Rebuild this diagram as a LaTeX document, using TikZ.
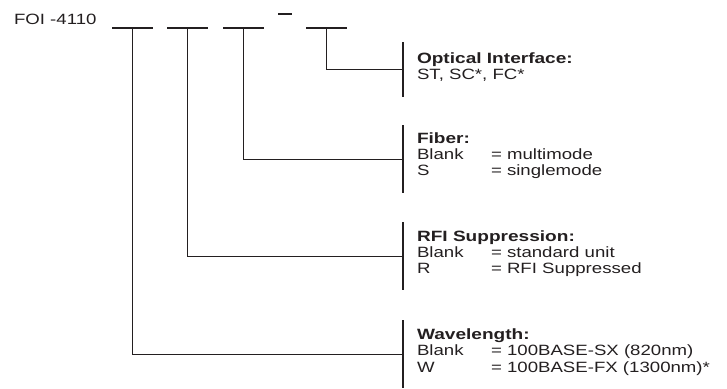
\documentclass[tikz,border=0pt]{standalone}
\usepackage{fontspec}
\setmainfont{Liberation Sans}[FakeStretch=1.25,BoldFeatures={FakeStretch=1.28}]
\definecolor{ink}{RGB}{35,31,32}
\begin{document}
\begin{tikzpicture}[x=1pt,y=-1pt,
  ln/.style={draw=ink,line width=1.4pt},
  txt/.style={anchor=base west,inner sep=0pt,outer sep=0pt,text=ink,
    font=\fontsize{14.9pt}{16pt}\selectfont},
  ttl/.style={txt,font=\fontsize{14.9pt}{16pt}\selectfont\bfseries}]
\useasboundingbox (0,0) rectangle (727,388);
% part number
\node[txt] (foi) at (14,24) {FOI -4110};
% bars
\coordinate (b1) at (132.5,28);
\coordinate (b2) at (187.5,28);
\coordinate (b3) at (243.5,28);
\coordinate (b4) at (326.5,28);
\foreach \b in {b1,b2,b3,b4}{
  \draw[ln] ([xshift=-20.5pt]\b) -- ([xshift=20.5pt]\b);
}
\coordinate (d1) at (278,14);
\coordinate (d2) at (292,14);
\draw[ln] (d1) -- (d2);
% brackets
\coordinate (k1t) at (403,42);  \coordinate (k1b) at (403,97);
\coordinate (k2t) at (403,125); \coordinate (k2b) at (403,193);
\coordinate (k3t) at (403,222); \coordinate (k3b) at (403,290);
\coordinate (k4t) at (403,320); \coordinate (k4b) at (403,388);
\draw[ln] (k1t) -- (k1b);
\draw[ln] (k2t) -- (k2b);
\draw[ln] (k3t) -- (k3b);
\draw[ln] (k4t) -- (k4b);
\coordinate (k1m) at (403,69.5);
\coordinate (k2m) at (403,159.5);
\coordinate (k3m) at (403,256.5);
\coordinate (k4m) at (403,354.5);
% connectors
\draw[ln] (b4) |- (k1m);
\draw[ln] (b3) |- (k2m);
\draw[ln] (b2) |- (k3m);
\draw[ln] (b1) |- (k4m);
% texts
\node[ttl] (t1) at (417,63) {Optical Interface:};
\node[txt] (t1a) at (417,79) {ST, SC*, FC*};
\node[ttl] (t2) at (417,143) {Fiber:};
\node[txt] (t2a) at (417,159) {Blank};
\node[txt] (t2b) at (491,159) {= multimode};
\node[txt] (t2c) at (417,175) {S};
\node[txt] (t2d) at (491,175) {= singlemode};
\node[ttl] (t3) at (417,241) {RFI Suppression:};
\node[txt] (t3a) at (417,257) {Blank};
\node[txt] (t3b) at (491,257) {= standard unit};
\node[txt] (t3c) at (417,273) {R};
\node[txt] (t3d) at (491,273) {= RFI Suppressed};
\node[ttl] (t4) at (417,339) {Wavelength:};
\node[txt] (t4a) at (417,355) {Blank};
\node[txt] (t4b) at (491,355) {= 100BASE-SX (820nm)};
\node[txt] (t4c) at (417,372) {W};
\node[txt] (t4d) at (491,372) {= 100BASE-FX (1300nm)*};
\end{tikzpicture}
\end{document}
